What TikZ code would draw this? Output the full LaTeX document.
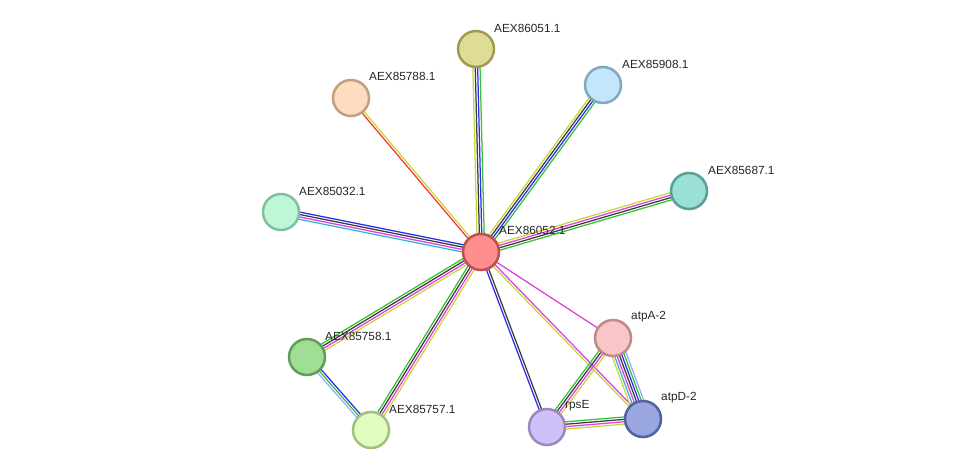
\documentclass[tikz,border=0pt]{standalone}
\usepackage{fontspec}
\setmainfont{Liberation Sans}
\usetikzlibrary{calc,backgrounds}
\definecolor{eg}{HTML}{33C233}
\definecolor{er}{HTML}{FF3333}
\definecolor{eb}{HTML}{2B2BF0}
\definecolor{ek}{HTML}{3C3C3C}
\definecolor{em}{HTML}{E03CE0}
\definecolor{ec}{HTML}{33B5D5}
\definecolor{ey}{HTML}{C5D83A}
\definecolor{el}{HTML}{A0A8FF}
\tikzset{
  prot/.style={circle, minimum size=36pt, inner sep=0pt, line width=2.5pt},
  lab/.style={anchor=west, font=\fontsize{11.8}{14}\selectfont, text=black!85, inner sep=0pt},
  edg/.style={line width=1.25pt},
}
\newcommand\edgeset[4]{%
  \foreach \c [count=\i] in {#4} {%
    \pgfmathsetmacro\dd{((#3+1)/2-\i)*2.4}%
    \draw[edg, \c] ($(#1.center)!\dd pt!90:(#2.center)$) -- ($(#2.center)!\dd pt!-90:(#1.center)$);
  }%
}
\begin{document}
\begin{tikzpicture}[x=1pt,y=-1pt]
\useasboundingbox (0,0) rectangle (975,476);
\node[prot, fill={rgb,255:red,255;green,143;blue,143}, draw={rgb,255:red,192;green,80;blue,80}] (c) at (481,252) {};
\node[prot, fill={rgb,255:red,222;green,220;blue,150}, draw={rgb,255:red,160;green,154;blue,85}] (n51) at (476,49) {};
\node[prot, fill={rgb,255:red,194;green,231;blue,253}, draw={rgb,255:red,128;green,168;blue,192}] (n908) at (603,85) {};
\node[prot, fill={rgb,255:red,253;green,221;blue,192}, draw={rgb,255:red,192;green,160;blue,128}] (n788) at (351,98) {};
\node[prot, fill={rgb,255:red,153;green,224;blue,216}, draw={rgb,255:red,90;green,158;blue,150}] (n687) at (689,191) {};
\node[prot, fill={rgb,255:red,189;green,247;blue,214}, draw={rgb,255:red,128;green,192;blue,160}] (n032) at (281,212) {};
\node[prot, fill={rgb,255:red,160;green,222;blue,150}, draw={rgb,255:red,96;green,158;blue,88}] (n758) at (307,357) {};
\node[prot, fill={rgb,255:red,224;green,253;blue,192}, draw={rgb,255:red,160;green,192;blue,128}] (n757) at (371,430) {};
\node[prot, fill={rgb,255:red,208;green,192;blue,248}, draw={rgb,255:red,154;green,136;blue,192}] (rps) at (547,427) {};
\node[prot, fill={rgb,255:red,248;green,198;blue,198}, draw={rgb,255:red,192;green,136;blue,136}] (atpa) at (613,338) {};
\node[prot, fill={rgb,255:red,154;green,166;blue,224}, draw={rgb,255:red,85;green,96;blue,160}] (atpd) at (643,419) {};

\node[lab] (lc) at ($(c)+(18,-22)$) {AEX86052.1};
\node[lab] (l51) at ($(n51)+(18,-21)$) {AEX86051.1};
\node[lab] (l908) at ($(n908)+(19,-21)$) {AEX85908.1};
\node[lab] (l788) at ($(n788)+(18,-22)$) {AEX85788.1};
\node[lab] (l687) at ($(n687)+(19,-21)$) {AEX85687.1};
\node[lab] (l032) at ($(n032)+(18,-21)$) {AEX85032.1};
\node[lab] (l758) at ($(n758)+(18,-21)$) {AEX85758.1};
\node[lab] (l757) at ($(n757)+(18,-21)$) {AEX85757.1};
\node[lab] (lrps) at ($(rps)+(18,-21)$) {rpsE};
\node[lab] (latpa) at ($(atpa)+(18,-21)$) {atpA-2};
\node[lab] (latpd) at ($(atpd)+(18,-21)$) {atpD-2};

\begin{pgfonlayer}{background}
\edgeset{c}{n51}{4}{ey,ek,eb,eg}
\edgeset{c}{n908}{4}{ey,ek,eb,eg}
\edgeset{c}{n788}{2}{er,ey}
\edgeset{c}{n687}{4}{ey,em,ek,eg}
\edgeset{c}{n032}{4}{ec,em,ek,eb}
\edgeset{c}{n758}{4}{ey,em,ek,eg}
\edgeset{c}{n757}{4}{ey,em,ek,eg}
\edgeset{c}{rps}{2}{ek,eb}
\edgeset{c}{atpa}{1}{em}
\edgeset{c}{atpd}{2}{em,ey}
\edgeset{n758}{n757}{3}{eb,eg,el}
\edgeset{rps}{atpa}{4}{eg,ek,em,ey}
\edgeset{rps}{atpd}{4}{eg,ek,em,ey}
\edgeset{atpa}{atpd}{7}{el,eg,eb,ek,em,ec,ey}
\end{pgfonlayer}
\end{tikzpicture}
\end{document}
